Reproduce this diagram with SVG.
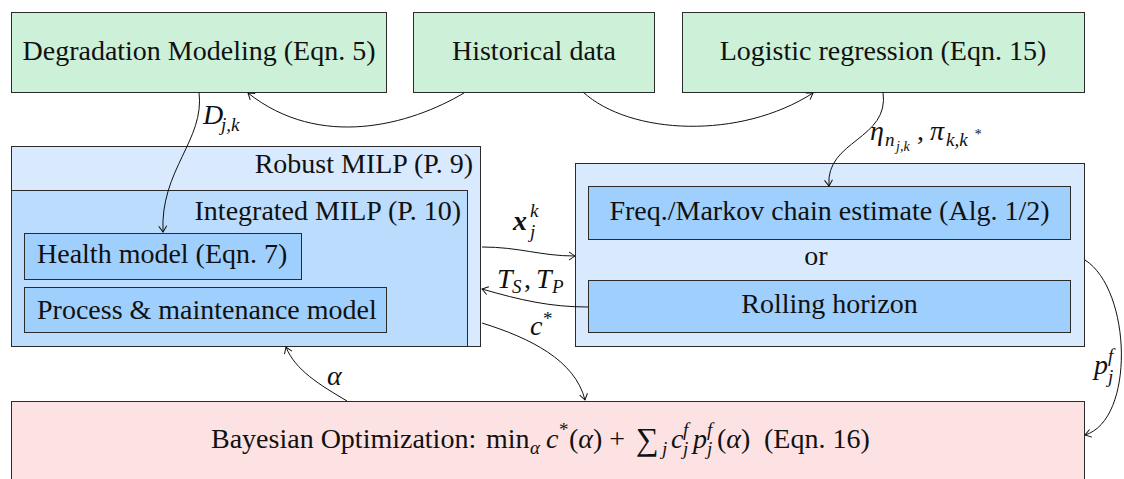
<svg xmlns="http://www.w3.org/2000/svg" width="1124" height="479" viewBox="0 0 1124 479" font-family="'Liberation Serif', 'DejaVu Serif', serif">
<style>
.box{stroke:#2b2b2b;stroke-width:1}
.g{fill:#cdf0d8}
.lb{fill:#d9eafe}
.mb{fill:#bbdcfd}
.db{fill:#9fcffd}
.pk{fill:#fde2e3}
text{font-family:'Liberation Serif', 'DejaVu Serif', serif;font-size:28px;fill:#111}
.i{font-style:italic}
.s{font-size:19px}
.ss{font-size:14px}
.c{stroke:#111;stroke-width:1;fill:none;marker-end:url(#arr)}
</style>
<defs>
<marker id="arr" markerUnits="userSpaceOnUse" viewBox="-7 -5 8 10" refX="0" refY="0" markerWidth="8" markerHeight="10" orient="auto">
<path d="M -6 -4 Q -1.5 -1 0 0 Q -1.5 1 -6 4" fill="none" stroke="#111" stroke-width="1"/>
</marker>
</defs>
<rect width="1124" height="479" fill="#fff"/>
<g id="degradation">
<rect class="box g" x="11.5" y="12.5" width="375" height="80"/>
<text x="199" y="60" text-anchor="middle">Degradation Modeling (Eqn. 5)</text>
</g>
<g id="historical">
<rect class="box g" x="413.5" y="12.5" width="241" height="80"/>
<text x="534" y="60" text-anchor="middle">Historical data</text>
</g>
<g id="logistic">
<rect class="box g" x="682.5" y="12.5" width="402" height="80"/>
<text x="883" y="60" text-anchor="middle">Logistic regression (Eqn. 15)</text>
</g>
<g id="robust">
<rect class="box lb" x="11.5" y="146.5" width="469" height="200"/>
<text x="473" y="173" text-anchor="end">Robust MILP (P. 9)</text>
</g>
<g id="integrated">
<rect class="box mb" x="11.5" y="190.5" width="456" height="156"/>
<text x="461" y="220" text-anchor="end">Integrated MILP (P. 10)</text>
</g>
<g id="health">
<rect class="box db" x="24.5" y="233.5" width="277" height="46"/>
<text x="37" y="263">Health model (Eqn. 7)</text>
</g>
<g id="process">
<rect class="box db" x="24.5" y="287.5" width="362" height="45"/>
<text x="37" y="319">Process &amp; maintenance model</text>
</g>
<g id="estimation">
<rect class="box lb" x="575.5" y="163.5" width="509" height="183"/>
<text x="816" y="265" text-anchor="middle">or</text>
</g>
<g id="freq">
<rect class="box db" x="588.5" y="186.5" width="482" height="53"/>
<text x="829.5" y="220" text-anchor="middle">Freq./Markov chain estimate (Alg. 1/2)</text>
</g>
<g id="rolling">
<rect class="box db" x="588.5" y="280.5" width="482" height="52"/>
<text x="829.5" y="313" text-anchor="middle">Rolling horizon</text>
</g>
<g id="bayesian">
<rect class="box pk" x="11.5" y="401.5" width="1073" height="90"/>
<text y="448"><tspan x="211">Bayesian Optimization:</tspan><tspan x="486">min</tspan><tspan class="i s" x="530" y="454">α</tspan><tspan class="i" x="546" y="448">c</tspan><tspan class="s" x="559" y="436">*</tspan><tspan x="569" y="448">(</tspan><tspan class="i">α</tspan><tspan>) +</tspan><tspan x="636" y="450" style="font-size:32px">∑</tspan><tspan class="i s" x="662" y="455">j</tspan><tspan class="i" x="671" y="448">c</tspan><tspan class="i s" x="683" y="436">f</tspan><tspan class="i s" x="683" y="455">j</tspan><tspan class="i" x="693" y="448">p</tspan><tspan class="i s" x="707" y="436">f</tspan><tspan class="i s" x="707" y="455">j</tspan><tspan x="717" y="448">(</tspan><tspan class="i">α</tspan><tspan>)</tspan><tspan x="764">(Eqn. 16)</tspan></text>
</g>
<g id="connectors">
<path class="c" d="M 464 93 C 410 125, 320 150, 248 93"/>
<path class="c" d="M 583 92 C 630 135, 740 140, 813 93"/>
<path class="c" d="M 199 92 C 205 140, 160 170, 163 232"/>
<path class="c" d="M 883 92 C 890 140, 825 140, 829 186"/>
<path class="c" d="M 482 247 C 520 247, 540 256, 575 256"/>
<path class="c" d="M 588 307 C 550 307, 520 300, 482 289"/>
<path class="c" d="M 482 323 C 530 338, 575 360, 585 400"/>
<path class="c" d="M 347 401 C 320 385, 295 370, 286 347"/>
<path class="c" d="M 1085 260 C 1132 290, 1135 420, 1085 435"/>
<text class="i" x="203" y="124">D</text><text class="i s" x="221" y="131">j,k</text>
<text class="i" x="870" y="140">η<tspan class="s" x="885" y="146">n</tspan><tspan class="ss" x="896" y="151">j,k</tspan><tspan x="917" y="140" style="font-style:normal">,</tspan><tspan x="930" y="140">π</tspan><tspan class="s" x="946" y="146">k,k</tspan><tspan class="ss" x="974" y="139">*</tspan></text>
<text x="513" y="230" style="font-weight:bold;font-style:italic">x</text><text class="i s" x="530" y="217">k</text><text class="i s" x="530" y="238">j</text>
<text class="i" x="497" y="288">T<tspan class="s" x="512" y="293">S</tspan><tspan x="524" y="288" style="font-style:normal">,</tspan><tspan x="536" y="288">T</tspan><tspan class="s" x="552" y="293">P</tspan></text>
<text class="i" x="530" y="335">c<tspan class="s" x="543" y="325" style="font-style:normal">*</tspan></text>
<text class="i" x="327" y="385">α</text>
<text class="i" x="1094" y="374">p<tspan class="s" x="1108" y="362">f</tspan><tspan class="s" x="1108" y="383">j</tspan></text>
</g>
</svg>
